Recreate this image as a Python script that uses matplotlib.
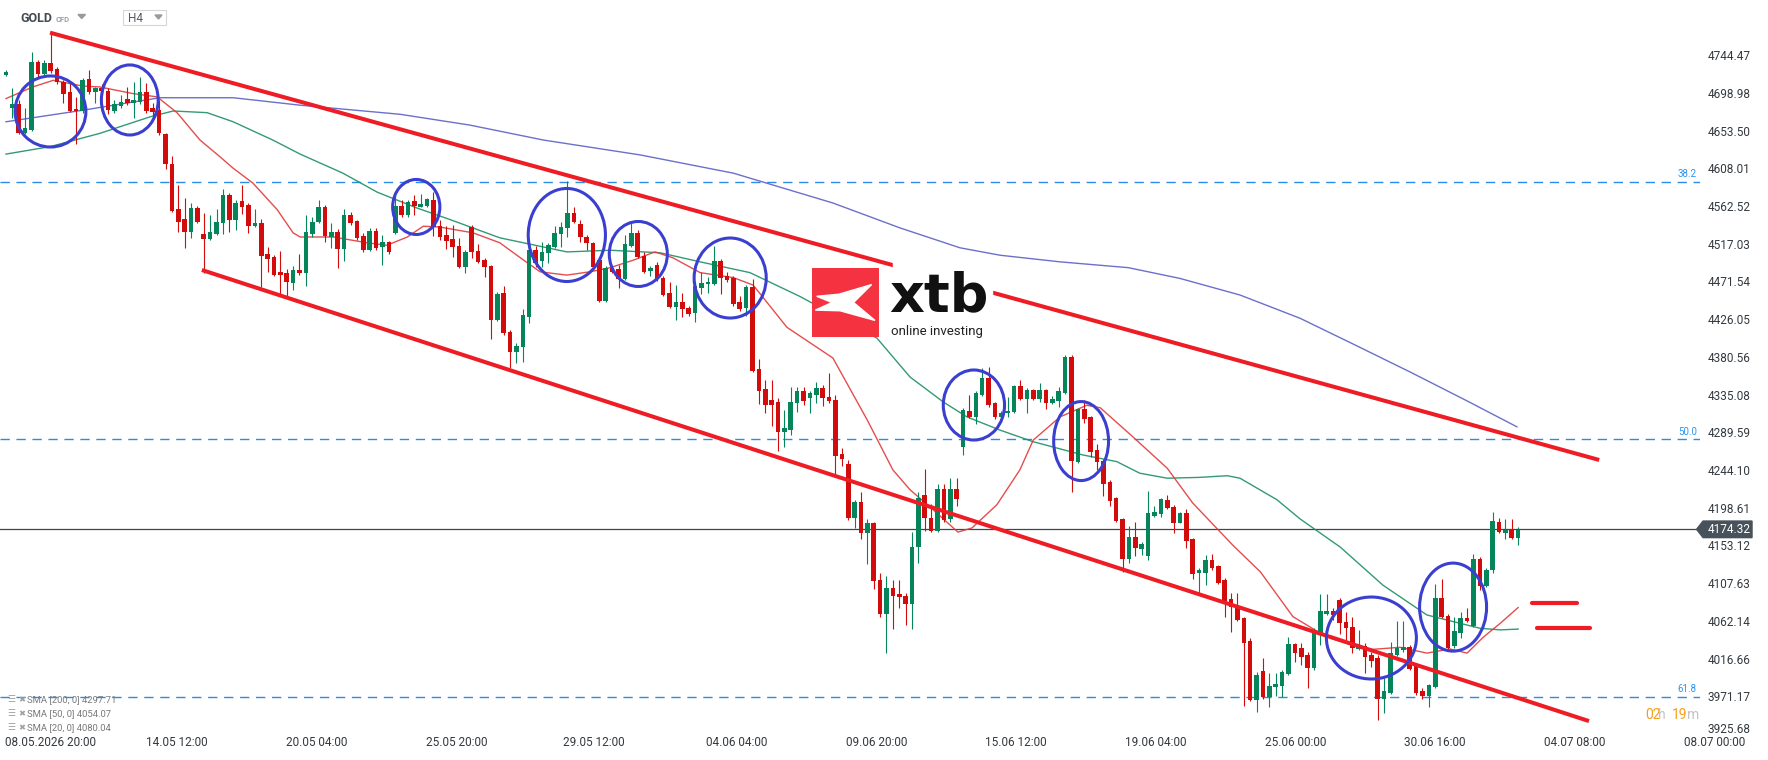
import numpy as np
import matplotlib
matplotlib.use("Agg")
import matplotlib.pyplot as plt
import matplotlib.transforms as mtransforms
from matplotlib.patches import Ellipse, Polygon, Rectangle

plt.rcParams['font.family'] = ['Roboto', 'DejaVu Sans']

W, H = 1768, 760

# --- H4 candles, GOLD ---
opens = [
    4722, 4683, 4687, 4653, 4656, 4738, 4724, 4737, 4730, 4714,
    4702, 4681, 4679, 4718, 4702, 4707, 4703, 4679, 4685, 4694,
    4689, 4690, 4702, 4683, 4680, 4651, 4615, 4561, 4549, 4533,
    4562, 4531, 4525, 4531, 4544, 4578, 4547, 4570, 4566, 4540,
    4544, 4507, 4503, 4485, 4484, 4472, 4487, 4484, 4531, 4545,
    4563, 4527, 4533, 4513, 4554, 4546, 4528, 4511, 4534, 4515,
    4521, 4532, 4564, 4554, 4570, 4563, 4564, 4572, 4540, 4529,
    4525, 4516, 4491, 4539, 4510, 4499, 4492, 4427, 4459, 4412,
    4388, 4394, 4430, 4511, 4498, 4508, 4515, 4531, 4538, 4556,
    4543, 4527, 4520, 4499, 4450, 4489, 4488, 4476, 4516, 4532,
    4504, 4486, 4493, 4478, 4459, 4443, 4449, 4441, 4435, 4466,
    4470, 4470, 4498, 4480, 4478, 4449, 4441, 4467, 4368, 4344,
    4330, 4328, 4292, 4294, 4327, 4341, 4333, 4336, 4345, 4334,
    4330, 4265, 4253, 4188, 4207, 4170, 4182, 4113, 4072, 4104,
    4096, 4094, 4084, 4153, 4216, 4188, 4172, 4223, 4187, 4223,
    4274, 4317, 4310, 4336, 4357, 4327, 4310, 4315, 4316, 4347,
    4332, 4342, 4332, 4342, 4327, 4329, 4339, 4382, 4255, 4319,
    4310, 4270, 4257, 4231, 4212, 4187, 4139, 4165, 4151, 4142,
    4190, 4193, 4210, 4201, 4182, 4194, 4163, 4122, 4122, 4137,
    4130, 4113, 4090, 4082, 4067, 4040, 3968, 4004, 3972, 3984,
    3985, 4000, 4036, 4031, 4023, 4007, 4048, 4072, 4076, 4089,
    4063, 4057, 4030, 4034, 4023, 4019, 3970, 3977, 4023, 4029,
    4032, 4009, 3979, 3973, 3984, 4092, 4070, 4034, 4049, 4067,
    4058, 4139, 4106, 4125, 4183, 4170, 4174, 4164,
]
highs = [
    4729, 4707, 4692, 4683, 4750, 4741, 4741, 4774, 4732, 4716,
    4713, 4696, 4719, 4729, 4708, 4712, 4707, 4692, 4698, 4708,
    4714, 4720, 4713, 4689, 4692, 4653, 4625, 4590, 4574, 4568,
    4564, 4556, 4554, 4561, 4585, 4580, 4572, 4590, 4568, 4561,
    4549, 4515, 4505, 4510, 4488, 4492, 4507, 4554, 4551, 4572,
    4566, 4544, 4537, 4561, 4557, 4548, 4532, 4538, 4538, 4529,
    4522, 4582, 4572, 4572, 4578, 4579, 4574, 4581, 4548, 4540,
    4542, 4526, 4511, 4541, 4519, 4502, 4493, 4461, 4468, 4415,
    4399, 4440, 4514, 4516, 4521, 4520, 4540, 4545, 4595, 4563,
    4548, 4529, 4521, 4502, 4492, 4491, 4493, 4529, 4544, 4536,
    4509, 4492, 4497, 4480, 4473, 4469, 4459, 4444, 4474, 4485,
    4479, 4516, 4500, 4485, 4480, 4456, 4469, 4476, 4380, 4355,
    4355, 4333, 4318, 4346, 4346, 4346, 4341, 4352, 4348, 4363,
    4336, 4272, 4258, 4210, 4219, 4187, 4183, 4122, 4118, 4113,
    4113, 4098, 4171, 4219, 4247, 4205, 4229, 4229, 4236, 4236,
    4321, 4336, 4341, 4369, 4370, 4328, 4317, 4334, 4348, 4355,
    4345, 4344, 4351, 4344, 4335, 4346, 4385, 4385, 4321, 4330,
    4311, 4277, 4259, 4234, 4213, 4188, 4178, 4183, 4159, 4221,
    4202, 4212, 4216, 4204, 4195, 4199, 4164, 4128, 4143, 4145,
    4131, 4116, 4098, 4098, 4069, 4043, 4002, 4019, 4001, 4001,
    4005, 4044, 4037, 4037, 4026, 4055, 4096, 4096, 4079, 4091,
    4075, 4069, 4053, 4037, 4026, 4023, 3995, 4038, 4064, 4064,
    4035, 4012, 3983, 3988, 4108, 4115, 4072, 4068, 4075, 4080,
    4145, 4141, 4128, 4195, 4188, 4187, 4187, 4177,
]
lows = [
    4721, 4671, 4651, 4651, 4655, 4719, 4722, 4725, 4712, 4689,
    4678, 4639, 4677, 4700, 4689, 4698, 4675, 4677, 4683, 4686,
    4671, 4687, 4677, 4668, 4650, 4609, 4557, 4533, 4514, 4526,
    4544, 4484, 4523, 4529, 4531, 4533, 4536, 4555, 4532, 4539,
    4467, 4485, 4480, 4457, 4456, 4463, 4481, 4468, 4527, 4544,
    4521, 4514, 4490, 4498, 4542, 4523, 4509, 4510, 4511, 4493,
    4507, 4531, 4551, 4551, 4554, 4563, 4563, 4528, 4523, 4513,
    4503, 4490, 4484, 4502, 4496, 4479, 4404, 4426, 4409, 4369,
    4375, 4376, 4423, 4491, 4491, 4496, 4514, 4515, 4527, 4544,
    4521, 4511, 4490, 4449, 4449, 4484, 4465, 4475, 4515, 4502,
    4484, 4480, 4474, 4456, 4441, 4427, 4431, 4432, 4424, 4458,
    4459, 4469, 4458, 4473, 4444, 4438, 4432, 4364, 4325, 4315,
    4299, 4269, 4274, 4288, 4316, 4324, 4315, 4327, 4323, 4327,
    4239, 4251, 4186, 4176, 4163, 4132, 4102, 4069, 4025, 4054,
    4079, 4059, 4054, 4134, 4172, 4171, 4171, 4183, 4183, 4203,
    4264, 4309, 4301, 4335, 4322, 4307, 4309, 4310, 4315, 4330,
    4315, 4330, 4328, 4319, 4326, 4322, 4338, 4219, 4254, 4303,
    4262, 4246, 4215, 4202, 4183, 4123, 4134, 4142, 4143, 4137,
    4189, 4189, 4199, 4170, 4182, 4152, 4115, 4098, 4107, 4125,
    4108, 4069, 4050, 4064, 3961, 3967, 3954, 3970, 3960, 3973,
    3972, 3999, 4014, 4011, 3983, 4005, 4035, 4071, 4065, 4048,
    4041, 4025, 4029, 4001, 4008, 3944, 3953, 3976, 4021, 4026,
    4005, 3975, 3970, 3960, 3983, 4067, 4029, 4031, 4043, 4063,
    4056, 4101, 4105, 4122, 4170, 4163, 4163, 4155,
]
closes = [
    4726, 4687, 4653, 4659, 4738, 4724, 4737, 4727, 4714, 4700,
    4679, 4679, 4716, 4702, 4707, 4703, 4680, 4687, 4690, 4689,
    4692, 4702, 4679, 4678, 4653, 4615, 4558, 4545, 4533, 4562,
    4545, 4525, 4533, 4545, 4578, 4547, 4568, 4563, 4540, 4544,
    4504, 4501, 4481, 4481, 4473, 4487, 4484, 4533, 4545, 4563,
    4528, 4533, 4513, 4554, 4544, 4526, 4511, 4534, 4514, 4521,
    4509, 4564, 4554, 4569, 4564, 4567, 4573, 4539, 4527, 4522,
    4515, 4491, 4509, 4509, 4497, 4491, 4427, 4458, 4411, 4388,
    4396, 4433, 4511, 4496, 4509, 4517, 4532, 4539, 4556, 4545,
    4527, 4520, 4491, 4450, 4489, 4485, 4476, 4519, 4532, 4503,
    4485, 4490, 4476, 4457, 4443, 4448, 4440, 4434, 4468, 4472,
    4473, 4498, 4478, 4475, 4446, 4440, 4467, 4365, 4341, 4324,
    4324, 4292, 4296, 4328, 4341, 4329, 4339, 4345, 4333, 4329,
    4263, 4259, 4188, 4207, 4170, 4182, 4112, 4072, 4104, 4094,
    4093, 4084, 4153, 4212, 4188, 4172, 4223, 4186, 4223, 4211,
    4318, 4310, 4339, 4357, 4324, 4310, 4315, 4317, 4347, 4332,
    4342, 4332, 4342, 4327, 4332, 4341, 4382, 4257, 4319, 4307,
    4268, 4256, 4229, 4208, 4184, 4139, 4165, 4152, 4157, 4194,
    4195, 4211, 4200, 4182, 4194, 4160, 4120, 4125, 4137, 4128,
    4110, 4088, 4081, 4065, 4037, 3968, 3999, 3972, 3985, 3988,
    4002, 4036, 4025, 4020, 4007, 4049, 4076, 4076, 4071, 4061,
    4055, 4031, 4034, 4020, 4015, 3970, 3979, 4025, 4031, 4032,
    4006, 3977, 3973, 3987, 4092, 4069, 4031, 4052, 4067, 4064,
    4139, 4106, 4125, 4184, 4171, 4174, 4164, 4174,
]

# moving averages read at candle positions
sma200_x = [0, 12.1, 24.1, 35.6, 46.1, 61.8, 72.7, 84.2, 99.4, 114, 129.6, 140.1,
            149.5, 155.8, 165.2, 175.9, 184, 193.4, 202.8, 211.1, 220.1, 228.8, 236.8]
sma200_y = [4666, 4680, 4695, 4695, 4686, 4675, 4662, 4644, 4626, 4604, 4568, 4538,
            4514, 4505, 4497, 4490, 4477, 4457, 4429, 4398, 4364, 4330, 4298]
sma50_x = [0, 6.9, 14.7, 22.6, 26.2, 31.5, 35.6, 41.8, 46.1, 52.8, 58.2, 64.4, 69.6,
           77.4, 87.9, 94.7, 102.5, 108.8, 116.6, 124.5, 136.5, 141.7, 146.9, 150.6,
           155.8, 161, 168.8, 174.1, 177.7, 182, 187.1, 191.4, 193.4, 199.2, 202.8,
           209.1, 215.8, 222.7, 226.3, 231, 234.2, 237]
sma50_y = [4627, 4636, 4652, 4672, 4679, 4677, 4666, 4644, 4627, 4604, 4581, 4562, 4548,
           4526, 4509, 4511, 4508, 4497, 4484, 4455, 4405, 4358, 4328, 4310,
           4294, 4280, 4264, 4256, 4242, 4236, 4237, 4239, 4236, 4210, 4187,
           4153, 4107, 4071, 4064, 4055, 4053, 4054]
sma20_x = [0, 4.2, 7.4, 12.1, 14.7, 19.9, 23.7, 26.8, 30.4, 33.5, 35.6, 38.7, 42.5, 45,
           46.1, 51.3, 56.6, 59.7, 62.9, 65.4, 68, 73.2, 77.4, 80.6, 83.7, 87.9, 91.5,
           94.7, 98.3, 101.7, 104.5, 108.8, 114, 117.1, 122.4, 129.6, 135, 139, 141.7,
           145.3, 149.2, 151.4, 155.3, 158.9, 161, 165.2, 169.4, 171.5, 176.6, 182,
           186, 192.3, 196.6, 201.7, 206, 208, 213.3, 218.5, 222.7, 226.3, 229,
           231.5, 234.2, 237]
sma20_y = [4694, 4708, 4716, 4709, 4708, 4700, 4696, 4677, 4644, 4624, 4610, 4592, 4560, 4532,
           4527, 4527, 4520, 4517, 4527, 4540, 4539, 4532, 4520, 4502, 4485, 4481, 4485,
           4490, 4499, 4509, 4502, 4484, 4478, 4469, 4418, 4381, 4306, 4246, 4222,
           4198, 4171, 4176, 4204, 4246, 4282, 4310, 4324, 4321, 4286, 4248,
           4206, 4155, 4123, 4069, 4049, 4042, 4029, 4032, 4025, 4030, 4025,
           4044, 4061, 4080]

price_ticks = [4744.47, 4698.98, 4653.50, 4608.01, 4562.52, 4517.03, 4471.54, 4426.05,
               4380.56, 4335.08, 4289.59, 4244.10, 4198.61, 4153.12, 4107.63, 4062.14,
               4016.66, 3971.17, 3925.68]
date_labels = ['08.05.2026 20:00', '14.05 12:00', '20.05 04:00', '25.05 20:00', '29.05 12:00',
               '04.06 04:00', '09.06 20:00', '15.06 12:00', '19.06 04:00', '25.06 00:00',
               '30.06 16:00', '04.07 08:00', '08.07 00:00']
date_pos = [None, 26.8, 48.7, 70.6, 92.2, 114.5, 136.4, 158.3, 180.2, 202.1, 224.0, 245.9, 267.8]

fib_levels = [4593.5, 4282.7, 3972.0]
fib_names = ['38.2', '50.0', '61.8']
last_price = 4174.32

upper_channel_x = [6.9, 249.7]
upper_channel_y = [4773.5, 4258.0]
lower_channel_x = [30.7, 248.1]
lower_channel_y = [4487.2, 3943.0]

# analyst circles: centre index, centre price, width (candles), height (price)
circles = [(6.97, 4678.4, 11.1, 85.7), (19.4, 4692.3, 8.9, 84.5), (64.3, 4563.2, 7.4, 66.4),
           (87.9, 4529.4, 12.1, 112.2), (99.1, 4506.5, 9.1, 78.4), (113.5, 4477.5, 11.3, 96.5),
           (151.7, 4324.3, 9.6, 84.5), (168.5, 4280.8, 8.6, 95.3), (214.0, 4043.2, 14.1, 98.9),
           (226.8, 4080.5, 10.5, 106.2)]
equal_bars = [([239.1, 246.3], 4085.7), ([239.9, 248.2], 4054.9)]

sma_legend = ['SMA [200, 0] 4297.71', 'SMA [50, 0] 4054.07', 'SMA [20, 0] 4080.04']

GREEN = '#07855a'
RED = '#d20b0b'

def fx(x):
    return x / W

def fy(y):
    return 1 - y / H

fig = plt.figure(figsize=(W / 100, H / 100), dpi=100)
fig.patch.set_facecolor('white')
ax = fig.add_axes([0, 24 / H, 1700 / W, 736 / H])
ax.set_xlim(-0.94, 265.5)
ax.set_ylim(3925.0, 4812.9)
for s in ax.spines.values():
    s.set_visible(False)
ax.set_xticks([])
ax.set_yticks([])

# price scale on the right (lowest label sits a little higher, as on the platform)
yt = mtransforms.blended_transform_factory(ax.transAxes, ax.transData)
for v in price_ticks:
    ax.text(1708 / 1700, max(v, 3932.3), '%.2f' % v, transform=yt, ha='left', va='center',
            fontsize=8.5, color='#33393f', clip_on=False)

# fib levels
for lvl, name in zip(fib_levels, fib_names):
    ax.axhline(lvl, color='#2a8be8', lw=1.0, ls=(0, (6.7, 4.8)), zorder=1)
    ax.text(0.998, lvl + 9.5, name, transform=yt, ha='right', va='center',
            fontsize=7, color='#2a95f0')

# last price line
ax.axhline(last_price, color='#3d4751', lw=0.9, zorder=2)

# moving averages
ax.plot(sma200_x, sma200_y, color='#5b60c6', lw=1.0, alpha=0.9, zorder=2)
ax.plot(sma50_x, sma50_y, color='#1c8f66', lw=1.0, alpha=0.9, zorder=2)
ax.plot(sma20_x, sma20_y, color='#e23a3a', lw=1.0, alpha=0.9, zorder=2)

# candles
o = np.array(opens, float)
h = np.array(highs, float)
l = np.array(lows, float)
c = np.array(closes, float)
idx = np.arange(len(c))
cols = np.where(c >= o, GREEN, RED)
ax.vlines(idx, l, h, colors=cols, lw=0.8, zorder=3)
ax.bar(idx, np.maximum(np.abs(c - o), 1.6), bottom=np.minimum(o, c), width=0.72,
       color=cols, linewidth=0, zorder=3)

# channel lines
ax.plot(upper_channel_x, upper_channel_y, color='#ee1d25', lw=2.9, solid_capstyle='butt', zorder=4)
ax.plot(lower_channel_x, lower_channel_y, color='#ee1d25', lw=2.9, solid_capstyle='butt', zorder=4)
for xs, yv in equal_bars:
    ax.plot(xs, [yv, yv], color='#ee1d25', lw=3.0, solid_capstyle='round', zorder=4)

for cx, cy, cw, ch in circles:
    ax.add_patch(Ellipse((cx, cy), cw, ch, fill=False, ec='#3b3fd0', lw=2.2, zorder=5))

# price tag
ax.add_patch(Polygon([(0.998, last_price), (1.0018, last_price + 10), (1.0306, last_price + 10),
                      (1.0306, last_price - 10), (1.0018, last_price - 10)],
                     closed=True, transform=yt, color='#48525b', clip_on=False, zorder=6))
ax.text(1708 / 1700, last_price, '%.2f' % last_price, transform=yt, ha='left', va='center',
        fontsize=8.5, color='white', zorder=7, clip_on=False)

# date labels
dt = mtransforms.blended_transform_factory(ax.transData, ax.transAxes)
ylab = -(743 - 736) / 736
ax.text(5 / 1700, ylab, date_labels[0], transform=ax.transAxes, ha='left', va='center',
        fontsize=8.5, color='#33393f', clip_on=False)
for lab, pos in zip(date_labels[1:], date_pos[1:]):
    ax.text(pos, ylab, lab, transform=dt, ha='center', va='center', fontsize=8.5,
            color='#33393f', clip_on=False)

# xtb logo
fig.add_artist(Rectangle((fx(893), fy(340)), 99 / W, 78 / H, transform=fig.transFigure,
                         color='white', zorder=1))
logo = fig.add_axes([fx(812), fy(337), 67 / W, 69 / H])
logo.set_zorder(2)
logo.set_xlim(0, 1)
logo.set_ylim(0, 1)
logo.axis('off')
logo.add_patch(Rectangle((0, 0), 1, 1, color='#f5323f'))
logo.add_patch(Polygon([(0.07, 0.59), (0.40, 0.62), (0.89, 0.76), (0.62, 0.50), (0.94, 0.24),
                        (0.42, 0.38), (0.05, 0.39), (0.30, 0.50)], closed=True, color='white'))
fig.text(fx(889), fy(311), 'xtb', fontsize=39, fontweight='bold', color='#111111',
         family='DejaVu Sans', ha='left', va='baseline', zorder=3)
fig.text(fx(891), fy(332), 'online investing', fontsize=9.5, color='#222222',
         ha='left', va='center', zorder=3)

# header
fig.text(fx(20), fy(19), 'GOLD', fontsize=9, fontweight='bold', color='#454b54', va='center')
fig.text(fx(56), fy(19.5), 'CFD', fontsize=5.5, fontweight='bold', color='#9aa0a6', va='center')
fig.add_artist(Polygon([(fx(78), fy(14.5)), (fx(85.5), fy(14.5)), (fx(81.7), fy(18.5))],
                       closed=True, transform=fig.transFigure, color='#9a9a9a'))
fig.add_artist(Rectangle((fx(122.7), fy(25.3)), 43 / W, 15.3 / H, transform=fig.transFigure,
                         fc='white', ec='#d6d6d6', lw=0.8))
fig.text(fx(128), fy(18.5), 'H4', fontsize=8.5, color='#555b62', va='center')
fig.add_artist(Polygon([(fx(155), fy(15)), (fx(162), fy(15)), (fx(158.5), fy(19))],
                       closed=True, transform=fig.transFigure, color='#9a9a9a'))

# indicator legend
for k, txt in enumerate(sma_legend):
    yy = 700 + 14 * k
    fig.text(fx(7), fy(yy), '\u2630', fontsize=6.5, color='#a0a0a0', va='center',
             family='DejaVu Sans')
    fig.text(fx(18), fy(yy), '\u2716', fontsize=6, color='#a0a0a0', va='center',
             family='DejaVu Sans')
    fig.text(fx(27), fy(yy), txt, fontsize=6.8, color='#7a7a7a', va='center')

# candle countdown
for xx, t, col in [(1645, '02', '#f59e1b'), (1658.3, 'h', '#c4c4c4'),
                   (1671.7, '19', '#f59e1b'), (1687.3, 'm', '#c4c4c4')]:
    fig.text(fx(xx), fy(715), t, fontsize=10, color=col, va='center', ha='left')

fig.savefig('out.png', dpi=100, facecolor='white')
